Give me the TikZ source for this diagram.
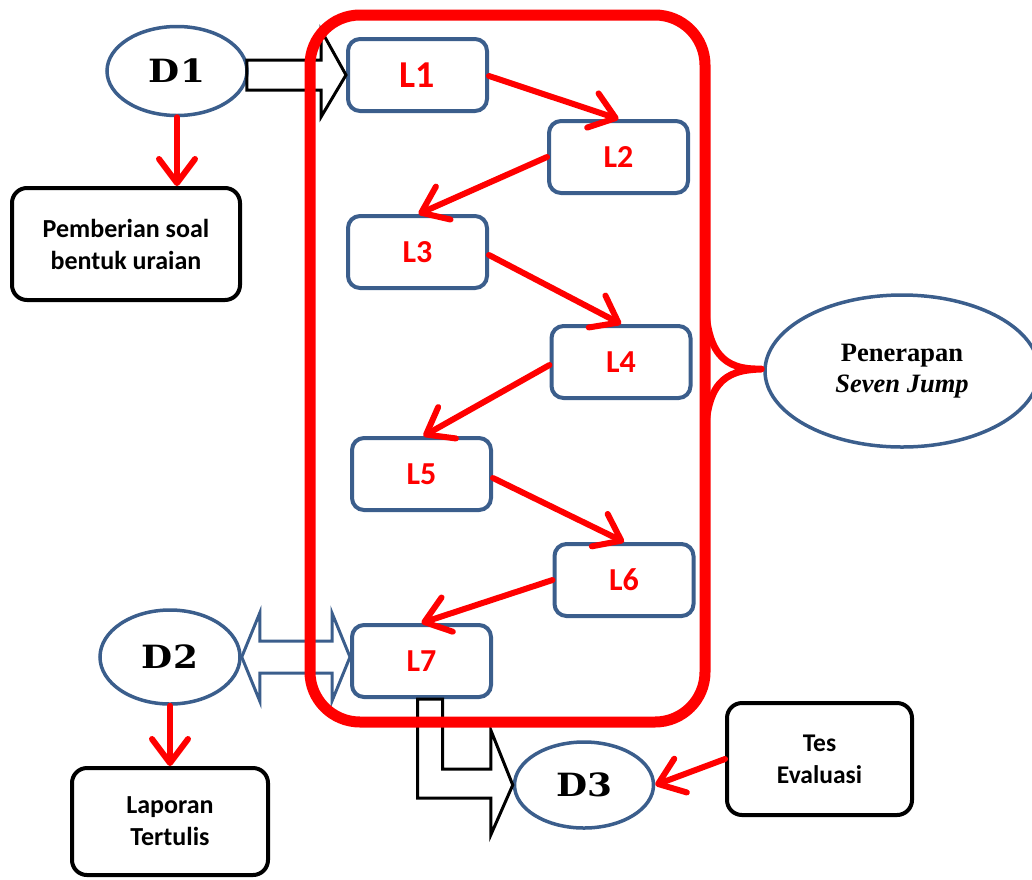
\documentclass[tikz,border=0pt]{standalone}
\usepackage{fontspec}
\setmainfont{Liberation Serif}
\newfontfamily\carl{Carlito}
\newfontfamily\dfont{DejaVu Serif}
\usetikzlibrary{arrows.meta,calc,shapes.geometric}
\definecolor{bl}{HTML}{3B5E8C}
\tikzset{
  lbox/.style={draw=bl, line width=4pt, rounded corners=12pt, minimum width=139pt, minimum height=72pt, text=red, font=\carl\bfseries\fontsize{32}{32}\selectfont, inner sep=0pt},
  bbox/.style={draw=black, line width=4pt, rounded corners=15pt, align=center, inner sep=0pt, font=\carl\bfseries\fontsize{26}{32}\selectfont},
  ell/.style={ellipse, draw=bl, line width=3.5pt, inner sep=0pt},
  dlab/.style={font=\dfont\bfseries\fontsize{32}{32}\selectfont},
  redarr/.style={draw=red, line width=6pt, line cap=round, -{Straight Barb[round,length=24pt,width=36pt]}},
  hollow/.style={line width=3pt, line join=miter},
}
\begin{document}
\begin{tikzpicture}[x=1pt,y=-1pt]
\useasboundingbox (0,0) rectangle (1032,879);
% L boxes
\node[lbox, font=\carl\bfseries\fontsize{38}{38}\selectfont] (L1) at (417.5,75) {L1};
\node[lbox] (L2) at (618.5,157) {L2};
\node[lbox] (L3) at (417.5,252) {L3};
\node[lbox] (L4) at (621,362) {L4};
\node[lbox] (L5) at (421.5,474) {L5};
\node[lbox] (L6) at (624,580) {L6};
\node[lbox] (L7) at (421.5,661) {L7};
% ellipses
\node[ell, minimum width=140pt, minimum height=89pt, dlab] (D1) at (177,71) {\scalebox{1.12}[1]{D1}};
\node[ell, minimum width=140pt, minimum height=94pt, dlab] (D2) at (170,657) {\scalebox{1.12}[1]{D2}};
\node[ell, minimum width=139pt, minimum height=86pt, dlab] (D3) at (584,785) {\scalebox{1.12}[1]{D3}};
\node[ell, minimum width=274pt, minimum height=152pt, align=center, font=\bfseries\fontsize{26.5}{31}\selectfont] (Pen) at (902,371) {Penerapan\\\textit{Seven Jump}};
% black boxes
\node[bbox, minimum width=228pt, minimum height=112pt] (Pem) at (126,244) {Pemberian soal\\bentuk uraian};
\node[bbox, minimum width=196pt, minimum height=107pt] (Lap) at (170,821.5) {Laporan\\Tertulis};
\node[bbox, minimum width=185pt, minimum height=112pt, font=\carl\bfseries\fontsize{25.5}{32}\selectfont] (Tes) at (819.5,759) {Tes\\Evaluasi};
% hollow arrows
\draw[hollow] let \p1=(D1.east), \p2=(L1.west) in
  (\x1-2pt,\y2+15pt) -- (\x2-25pt,\y2+15pt) -- (\x2-25pt,\y2+45pt) -- (\p2)
  -- (\x2-25pt,\y2-42pt) -- (\x2-25pt,\y2-15pt) -- (\x1-2pt,\y2-15pt) -- cycle;
\draw[hollow, draw=bl] let \p1=(D2.east), \p2=(L7.west) in
  (\p1) -- (\x1+18pt,\y1+44pt) -- (\x1+18pt,\y1+16pt) -- (\x2-18pt,\y1+16pt)
  -- (\x2-18pt,\y1+44pt) -- (\x2,\y1) -- (\x2-18pt,\y1-44pt) -- (\x2-18pt,\y1-16pt)
  -- (\x1+18pt,\y1-16pt) -- (\x1+18pt,\y1-44pt) -- cycle;
\draw[hollow] let \p1=(L7.south), \p2=(D3.west) in
  (\x1-4pt,\y1) -- (\x1-4pt,\y2-13pt) -- (\x2-22pt,\y2-13pt) -- (\x2-22pt,\y2-50pt)
  -- (\p2) -- (\x2-22pt,\y2+55pt) -- (\x2-22pt,\y2+16pt) -- (\x1+21pt,\y2+16pt)
  -- (\x1+21pt,\y1) -- cycle;
% red frame
\node[draw=red, line width=11pt, rounded corners=50pt, minimum width=395pt, minimum height=707pt, inner sep=0pt, outer sep=0pt] (frame) at (507.5,368.5) {};
% brace
\draw[red, line width=7pt, line join=round] ($(frame.east)+(0,-78)$) .. controls ($(frame.east)+(0,-15)$) and ($(Pen.west)+(-40,-1)$) .. ($(Pen.west)+(-2,-2)$)
  .. controls ($(Pen.west)+(-40,-1)$) and ($(frame.east)+(0,15)$) .. ($(frame.east)+(0,78)$);
% red arrows
\draw[redarr] ($(L1.east)+(0,1)$) -- (L2.north);
\draw[redarr] (L2.west) -- ($(L3.north)+(1,0)$);
\draw[redarr] ($(L3.east)+(0,3)$) -- (L4.north);
\draw[redarr] ($(L4.west)+(0,3)$) -- ($(L5.north)+(2,0)$);
\draw[redarr] ($(L5.east)+(0,4)$) -- (L6.north);
\draw[redarr] (L6.west) -- (L7.north);
\draw[redarr] (D1.south) -- (D1.south |- Pem.north);
\draw[redarr] (D2.south) -- (D2.south |- Lap.north);
\draw[redarr] (Tes.west) -- (D3.east);
\end{tikzpicture}
\end{document}
